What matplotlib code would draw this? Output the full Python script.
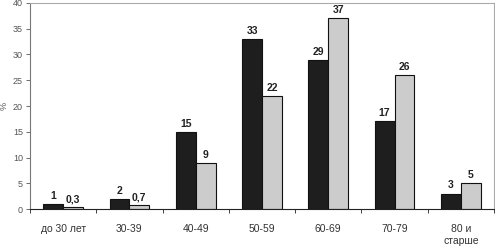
import matplotlib
matplotlib.use('Agg')
import matplotlib.pyplot as plt
import numpy as np

plt.rcParams['font.family'] = ['Liberation Sans', 'DejaVu Sans']

categories = ['до 30 лет', '30-39', '40-49', '50-59', '60-69', '70-79', '80 и\nстарше']
series_a = [1, 2, 15, 33, 29, 17, 3]
series_b = [0.3, 0.7, 9, 22, 37, 26, 5]
labels_a = ['1', '2', '15', '33', '29', '17', '3']
labels_b = ['0,3', '0,7', '9', '22', '37', '26', '5']

fig = plt.figure(figsize=(4.95, 2.49), dpi=100)
ax = fig.add_axes([30 / 495, 40 / 249, 464 / 495, 206 / 249])

x = np.arange(len(categories))
w = 0.3
ax.bar(x - w / 2, series_a, width=w, color='#1e1e1e', edgecolor='#111111', linewidth=0.8)
ax.bar(x + w / 2, series_b, width=w, color='#cccccc', edgecolor='#111111', linewidth=0.8)

for i in range(len(categories)):
    ax.text(x[i] - w / 2, series_a[i] + 0.6, labels_a[i], ha='center', va='bottom',
            fontsize=7.5, fontweight='bold', color='#222222')
    ax.text(x[i] + w / 2, series_b[i] + 0.6, labels_b[i], ha='center', va='bottom',
            fontsize=7.5, fontweight='bold', color='#222222')

ax.set_xlim(-0.5, len(categories) - 0.5)
ax.set_ylim(0, 40)
ax.set_yticks(range(0, 41, 5))
ax.tick_params(axis='y', labelsize=6.5, colors='#555555', length=3, width=0.6, pad=2)

ax.set_xticks(x)
ax.set_xticklabels(categories, fontsize=7.5, color='#333333', linespacing=1.25)
ax.tick_params(axis='x', length=0, pad=11)
ax.set_xticks(np.arange(len(categories) + 1) - 0.5, minor=True)
ax.tick_params(axis='x', which='minor', length=3, width=0.6, color='#222222')

ax.set_ylabel('%', fontsize=6.5, color='#555555', labelpad=3)

ax.spines['left'].set_color('#777777')
ax.spines['bottom'].set_color('#222222')
ax.spines['top'].set_color('#aaaaaa')
ax.spines['right'].set_color('#aaaaaa')
for s in ax.spines.values():
    s.set_linewidth(0.8)

fig.savefig('out.png', dpi=100)
